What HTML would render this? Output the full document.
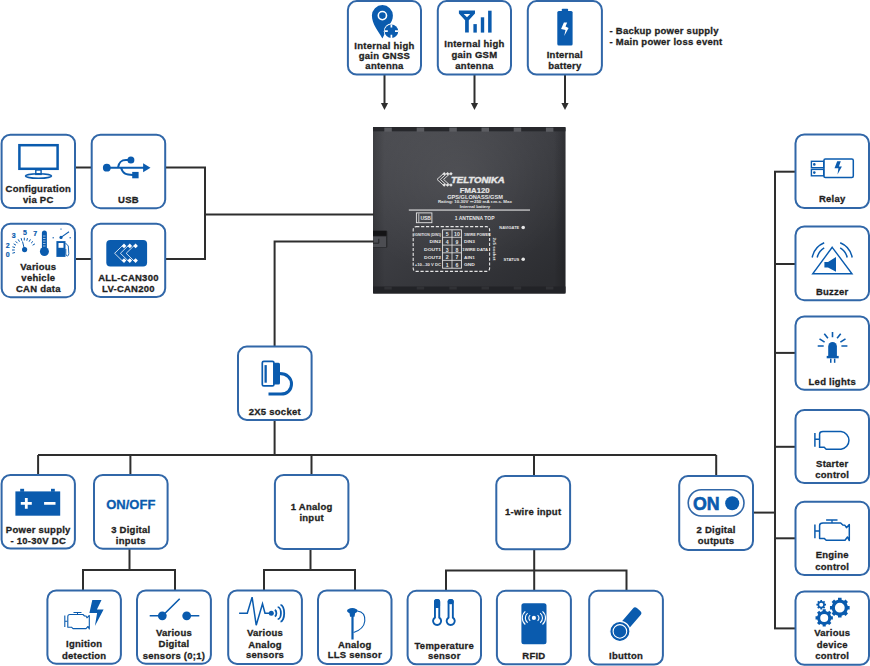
<!DOCTYPE html>
<html><head><meta charset="utf-8"><style>
html,body{margin:0;padding:0;background:#fff;width:870px;height:666px;overflow:hidden}
svg{display:block;font-family:"Liberation Sans",sans-serif}
</style></head><body>
<svg width="870" height="666" viewBox="0 0 870 666">
<defs><linearGradient id="dg" x1="0" y1="0" x2="0.8" y2="1"><stop offset="0" stop-color="#4a4b50"/><stop offset="0.5" stop-color="#3c3d42"/><stop offset="1" stop-color="#2c2d31"/></linearGradient><radialGradient id="rg" cx="0.45" cy="0.3" r="0.6"><stop offset="0" stop-color="#fff" stop-opacity="0.08"/><stop offset="1" stop-color="#fff" stop-opacity="0"/></radialGradient><linearGradient id="eg" x1="0" y1="0" x2="1" y2="0"><stop offset="0" stop-color="#000" stop-opacity="0.18"/><stop offset="0.06" stop-color="#000" stop-opacity="0"/><stop offset="0.94" stop-color="#000" stop-opacity="0"/><stop offset="1" stop-color="#000" stop-opacity="0.2"/></linearGradient></defs>
<rect x="373" y="127" width="192.5" height="166.5" rx="1.5" fill="url(#dg)"/>
<rect x="373" y="127" width="192.5" height="166.5" fill="url(#rg)"/>
<rect x="373" y="127" width="192.5" height="166.5" fill="url(#eg)"/>
<rect x="373" y="127" width="192.5" height="4.3" fill="#27282c"/>
<rect x="384.3" y="127.6" width="7.5" height="4.2" fill="#5b5c61"/>
<rect x="416.7" y="127.6" width="7.5" height="4.2" fill="#5b5c61"/>
<rect x="449.3" y="127.6" width="7.5" height="4.2" fill="#5b5c61"/>
<rect x="481.5" y="127.6" width="7.5" height="4.2" fill="#5b5c61"/>
<rect x="513.7" y="127.6" width="7.5" height="4.2" fill="#5b5c61"/>
<rect x="545.9" y="127.6" width="7.5" height="4.2" fill="#5b5c61"/>
<rect x="373" y="286.5" width="192.5" height="7" fill="#222327"/>
<rect x="384.3" y="286.5" width="7.5" height="3" fill="#303135"/>
<rect x="416.7" y="286.5" width="7.5" height="3" fill="#303135"/>
<rect x="449.3" y="286.5" width="7.5" height="3" fill="#303135"/>
<rect x="481.5" y="286.5" width="7.5" height="3" fill="#303135"/>
<rect x="513.7" y="286.5" width="7.5" height="3" fill="#303135"/>
<rect x="545.9" y="286.5" width="7.5" height="3" fill="#303135"/>
<rect x="373" y="230.8" width="14.4" height="16.9" rx="1" fill="#2a2b2e"/><rect x="373" y="230.8" width="13.5" height="5" fill="#141416"/><rect x="373" y="236.5" width="13" height="10.5" fill="#4c4d52"/>
<path d="M373,243.2 H378.8 V238.8" fill="none" stroke="#222326" stroke-width="1"/>
<text x="477.85" y="183.1" font-size="8.2" font-weight="bold" font-style="italic" fill="#e6e6e6" stroke="#e6e6e6" stroke-width="0.4" text-anchor="middle" textLength="53.7" lengthAdjust="spacingAndGlyphs">TELTONIKA</text>
<path d="M443.5,173.5 L437,179.4 L443.5,185.3" fill="none" stroke="#e6e6e6" stroke-width="0.9"/>
<path d="M446.8,173.5 L440.3,179.4 L446.8,185.3" fill="none" stroke="#e6e6e6" stroke-width="0.9"/>
<path d="M450.1,173.5 L443.6,179.4 L450.1,185.3" fill="none" stroke="#e6e6e6" stroke-width="0.9"/>
<rect x="443.0" y="172.60000000000002" width="2.4" height="2.4" fill="#e6e6e6" transform="rotate(45 444.2 173.8)"/>
<rect x="443.0" y="183.8" width="2.4" height="2.4" fill="#e6e6e6" transform="rotate(45 444.2 185)"/>
<rect x="446.40000000000003" y="172.60000000000002" width="2.4" height="2.4" fill="#e6e6e6" transform="rotate(45 447.6 173.8)"/>
<rect x="446.40000000000003" y="183.8" width="2.4" height="2.4" fill="#e6e6e6" transform="rotate(45 447.6 185)"/>
<rect x="449.8" y="172.60000000000002" width="2.4" height="2.4" fill="#e6e6e6" transform="rotate(45 451 173.8)"/>
<rect x="449.8" y="183.8" width="2.4" height="2.4" fill="#e6e6e6" transform="rotate(45 451 185)"/>
<text x="474.7" y="192.8" font-size="7.2" font-weight="bold"  fill="#e6e6e6" stroke="#e6e6e6" stroke-width="0.2" text-anchor="middle" textLength="29.8" lengthAdjust="spacingAndGlyphs">FMA120</text>
<text x="475" y="198.7" font-size="4.9" font-weight="bold"  fill="#e6e6e6" stroke="#e6e6e6" stroke-width="0" text-anchor="middle" textLength="55.7" lengthAdjust="spacingAndGlyphs">GPS/GLONASS/GSM</text>
<text x="474.9" y="203.4" font-size="4.3" font-weight="bold"  fill="#e6e6e6" stroke="#e6e6e6" stroke-width="0" text-anchor="middle" textLength="74" lengthAdjust="spacingAndGlyphs">Rating: 10-30V &#x2393; 250 mA r.m.s. Max</text>
<text x="475" y="207.6" font-size="4.3" font-weight="bold"  fill="#e6e6e6" stroke="#e6e6e6" stroke-width="0" text-anchor="middle" textLength="30.3" lengthAdjust="spacingAndGlyphs">Internal battery</text>
<rect x="408.8" y="209.5" width="121.2" height="1.1" fill="#e6e6e6"/>
<rect x="416.4" y="212.9" width="15.5" height="9.8" fill="none" stroke="#e6e6e6" stroke-width="0.9"/>
<path d="M418.8,213.5 V222.2" stroke="#e6e6e6" stroke-width="0.8"/>
<text x="425.7" y="220" font-size="4.6" font-weight="bold"  fill="#e6e6e6" stroke="#e6e6e6" stroke-width="0" text-anchor="middle" textLength="10.5" lengthAdjust="spacingAndGlyphs">USB</text>
<text x="474.6" y="219.6" font-size="5.2" font-weight="bold"  fill="#e6e6e6" stroke="#e6e6e6" stroke-width="0" text-anchor="middle" textLength="39.8" lengthAdjust="spacingAndGlyphs">1 ANTENNA TOP</text>
<rect x="413.2" y="226.6" width="76.4" height="44.8" rx="3" fill="none" stroke="#e6e6e6" stroke-width="1.1" stroke-dasharray="3.2 1.7"/>
<rect x="442.6" y="229.8" width="18.8" height="38.4" fill="none" stroke="#e6e6e6" stroke-width="0.9"/>
<path d="M452,229.8 V268.2 M442.6,237.3 H461.4 M442.6,245.1 H461.4 M442.6,252.8 H461.4 M442.6,260.4 H461.4" stroke="#e6e6e6" stroke-width="0.8"/>
<text x="427.65" y="235.5" font-size="4.4" font-weight="bold"  fill="#e6e6e6" stroke="#e6e6e6" stroke-width="0" text-anchor="middle" textLength="26.7" lengthAdjust="spacingAndGlyphs">IGNITION (DIN1)</text>
<text x="477.35" y="235.5" font-size="4.4" font-weight="bold"  fill="#e6e6e6" stroke="#e6e6e6" stroke-width="0" text-anchor="middle" textLength="26.7" lengthAdjust="spacingAndGlyphs">1WIRE POWER</text>
<text x="447.3" y="235.9" font-size="5.2" font-weight="bold" fill="#e6e6e6" text-anchor="middle">5</text>
<text x="456.9" y="235.9" font-size="5.2" font-weight="bold" fill="#e6e6e6" text-anchor="middle">10</text>
<text x="435.3" y="243.2" font-size="4.4" font-weight="bold"  fill="#e6e6e6" stroke="#e6e6e6" stroke-width="0" text-anchor="middle" textLength="11.4" lengthAdjust="spacingAndGlyphs">DIN2</text>
<text x="469.45" y="243.2" font-size="4.4" font-weight="bold"  fill="#e6e6e6" stroke="#e6e6e6" stroke-width="0" text-anchor="middle" textLength="10.9" lengthAdjust="spacingAndGlyphs">DIN3</text>
<text x="447.3" y="243.6" font-size="5.2" font-weight="bold" fill="#e6e6e6" text-anchor="middle">4</text>
<text x="456.9" y="243.6" font-size="5.2" font-weight="bold" fill="#e6e6e6" text-anchor="middle">9</text>
<text x="432.55" y="251.1" font-size="4.4" font-weight="bold"  fill="#e6e6e6" stroke="#e6e6e6" stroke-width="0" text-anchor="middle" textLength="16.9" lengthAdjust="spacingAndGlyphs">DOUT1</text>
<text x="475.15000000000003" y="251.1" font-size="4.4" font-weight="bold"  fill="#e6e6e6" stroke="#e6e6e6" stroke-width="0" text-anchor="middle" textLength="25.7" lengthAdjust="spacingAndGlyphs">1WIRE DATA</text>
<text x="447.3" y="251.5" font-size="5.2" font-weight="bold" fill="#e6e6e6" text-anchor="middle">3</text>
<text x="456.9" y="251.5" font-size="5.2" font-weight="bold" fill="#e6e6e6" text-anchor="middle">8</text>
<text x="432.55" y="258.8" font-size="4.4" font-weight="bold"  fill="#e6e6e6" stroke="#e6e6e6" stroke-width="0" text-anchor="middle" textLength="16.9" lengthAdjust="spacingAndGlyphs">DOUT2</text>
<text x="469.45" y="258.8" font-size="4.4" font-weight="bold"  fill="#e6e6e6" stroke="#e6e6e6" stroke-width="0" text-anchor="middle" textLength="10.9" lengthAdjust="spacingAndGlyphs">AIN1</text>
<text x="447.3" y="259.2" font-size="5.2" font-weight="bold" fill="#e6e6e6" text-anchor="middle">2</text>
<text x="456.9" y="259.2" font-size="5.2" font-weight="bold" fill="#e6e6e6" text-anchor="middle">7</text>
<text x="427.9" y="266.4" font-size="4.4" font-weight="bold"  fill="#e6e6e6" stroke="#e6e6e6" stroke-width="0" text-anchor="middle" textLength="26.2" lengthAdjust="spacingAndGlyphs">+10...30 V DC</text>
<text x="469.45" y="266.4" font-size="4.4" font-weight="bold"  fill="#e6e6e6" stroke="#e6e6e6" stroke-width="0" text-anchor="middle" textLength="10.9" lengthAdjust="spacingAndGlyphs">GND</text>
<text x="447.3" y="266.79999999999995" font-size="5.2" font-weight="bold" fill="#e6e6e6" text-anchor="middle">1</text>
<text x="456.9" y="266.79999999999995" font-size="5.2" font-weight="bold" fill="#e6e6e6" text-anchor="middle">6</text>
<g transform="translate(492.6 249) rotate(90)"><text x="0" y="0" font-size="4" font-weight="bold" fill="#e6e6e6" text-anchor="middle" textLength="23" lengthAdjust="spacingAndGlyphs">2x5 socket</text></g>
<text x="519.2" y="229" font-size="4.2" font-weight="bold" fill="#e6e6e6" text-anchor="end" textLength="19.9" lengthAdjust="spacingAndGlyphs">NAVIGATE</text><circle cx="523.2" cy="227.5" r="1.8" fill="#e6e6e6"/>
<text x="519.2" y="260.7" font-size="4.2" font-weight="bold" fill="#e6e6e6" text-anchor="end" textLength="15.7" lengthAdjust="spacingAndGlyphs">STATUS</text><circle cx="523.2" cy="259.2" r="1.8" fill="#e6e6e6"/>
<polyline points="384.5,75 384.5,104" fill="none" stroke="#2e2e2e" stroke-width="2" stroke-linejoin="miter"/>
<path d="M380.9,103 L388.1,103 L384.5,110 Z" fill="#2e2e2e"/>
<polyline points="474.5,75 474.5,104" fill="none" stroke="#2e2e2e" stroke-width="2" stroke-linejoin="miter"/>
<path d="M470.9,103 L478.1,103 L474.5,110 Z" fill="#2e2e2e"/>
<polyline points="565,75 565,104" fill="none" stroke="#2e2e2e" stroke-width="2" stroke-linejoin="miter"/>
<path d="M561.4,103 L568.6,103 L565,110 Z" fill="#2e2e2e"/>
<polyline points="75,167.5 92,167.5" fill="none" stroke="#2e2e2e" stroke-width="2" stroke-linejoin="miter"/>
<polyline points="75,259 92,259" fill="none" stroke="#2e2e2e" stroke-width="2" stroke-linejoin="miter"/>
<polyline points="165,167.5 205,167.5 205,259 165,259" fill="none" stroke="#2e2e2e" stroke-width="2" stroke-linejoin="miter"/>
<polyline points="205,214.6 374,214.6" fill="none" stroke="#2e2e2e" stroke-width="2" stroke-linejoin="miter"/>
<polyline points="374,241.6 274.6,241.6 274.6,347" fill="none" stroke="#2e2e2e" stroke-width="2" stroke-linejoin="miter"/>
<polyline points="274.6,420 274.6,455" fill="none" stroke="#2e2e2e" stroke-width="2" stroke-linejoin="miter"/>
<polyline points="38,455 716.2,455" fill="none" stroke="#2e2e2e" stroke-width="2" stroke-linejoin="miter"/>
<polyline points="38.1,455 38.1,476" fill="none" stroke="#2e2e2e" stroke-width="2" stroke-linejoin="miter"/>
<polyline points="130.4,455 130.4,476" fill="none" stroke="#2e2e2e" stroke-width="2" stroke-linejoin="miter"/>
<polyline points="311.5,455 311.5,476" fill="none" stroke="#2e2e2e" stroke-width="2" stroke-linejoin="miter"/>
<polyline points="534,455 534,476" fill="none" stroke="#2e2e2e" stroke-width="2" stroke-linejoin="miter"/>
<polyline points="716.2,455 716.2,476" fill="none" stroke="#2e2e2e" stroke-width="2" stroke-linejoin="miter"/>
<polyline points="129.5,548 129.5,570" fill="none" stroke="#2e2e2e" stroke-width="2" stroke-linejoin="miter"/>
<polyline points="83,591 83,570 175,570 175,591" fill="none" stroke="#2e2e2e" stroke-width="2" stroke-linejoin="miter"/>
<polyline points="310.5,548 310.5,570" fill="none" stroke="#2e2e2e" stroke-width="2" stroke-linejoin="miter"/>
<polyline points="264,591 264,570 355,570 355,591" fill="none" stroke="#2e2e2e" stroke-width="2" stroke-linejoin="miter"/>
<polyline points="534.2,549 534.2,592" fill="none" stroke="#2e2e2e" stroke-width="2" stroke-linejoin="miter"/>
<polyline points="446,592 446,570.5 626.5,570.5 626.5,592" fill="none" stroke="#2e2e2e" stroke-width="2" stroke-linejoin="miter"/>
<polyline points="753,512.6 775,512.6" fill="none" stroke="#2e2e2e" stroke-width="2" stroke-linejoin="miter"/>
<polyline points="775,171.7 775,628.4" fill="none" stroke="#2e2e2e" stroke-width="2" stroke-linejoin="miter"/>
<polyline points="774,171.7 796,171.7" fill="none" stroke="#2e2e2e" stroke-width="2" stroke-linejoin="miter"/>
<polyline points="774,264 796,264" fill="none" stroke="#2e2e2e" stroke-width="2" stroke-linejoin="miter"/>
<polyline points="774,352.9 796,352.9" fill="none" stroke="#2e2e2e" stroke-width="2" stroke-linejoin="miter"/>
<polyline points="774,446.8 796,446.8" fill="none" stroke="#2e2e2e" stroke-width="2" stroke-linejoin="miter"/>
<polyline points="774,538.3 796,538.3" fill="none" stroke="#2e2e2e" stroke-width="2" stroke-linejoin="miter"/>
<polyline points="774,628.4 796,628.4" fill="none" stroke="#2e2e2e" stroke-width="2" stroke-linejoin="miter"/>
<rect x="347.90" y="1.10" width="73.10" height="73.40" rx="8.8" fill="#fff" stroke="#3167a8" stroke-width="2"/>
<rect x="437.80" y="1.10" width="73.20" height="73.40" rx="8.8" fill="#fff" stroke="#3167a8" stroke-width="2"/>
<rect x="527.80" y="1.10" width="74.10" height="73.40" rx="8.8" fill="#fff" stroke="#3167a8" stroke-width="2"/>
<rect x="1.60" y="134.70" width="73.40" height="73.30" rx="8.8" fill="#fff" stroke="#3167a8" stroke-width="2"/>
<rect x="91.70" y="134.70" width="73.50" height="73.50" rx="8.8" fill="#fff" stroke="#3167a8" stroke-width="2"/>
<rect x="1.70" y="223.70" width="73.30" height="73.50" rx="8.8" fill="#fff" stroke="#3167a8" stroke-width="2"/>
<rect x="91.70" y="223.70" width="73.50" height="73.40" rx="8.8" fill="#fff" stroke="#3167a8" stroke-width="2"/>
<rect x="795.50" y="134.50" width="73.50" height="73.50" rx="8.8" fill="#fff" stroke="#3167a8" stroke-width="2"/>
<rect x="795.50" y="226.40" width="73.50" height="73.80" rx="8.8" fill="#fff" stroke="#3167a8" stroke-width="2"/>
<rect x="795.50" y="316.50" width="73.50" height="73.20" rx="8.8" fill="#fff" stroke="#3167a8" stroke-width="2"/>
<rect x="795.50" y="409.90" width="73.50" height="73.20" rx="8.8" fill="#fff" stroke="#3167a8" stroke-width="2"/>
<rect x="795.50" y="501.80" width="73.50" height="73.20" rx="8.8" fill="#fff" stroke="#3167a8" stroke-width="2"/>
<rect x="795.50" y="591.50" width="73.50" height="73.30" rx="8.8" fill="#fff" stroke="#3167a8" stroke-width="2"/>
<rect x="238.00" y="346.60" width="73.60" height="73.30" rx="8.8" fill="#fff" stroke="#3167a8" stroke-width="2"/>
<rect x="1.60" y="474.90" width="73.30" height="73.70" rx="8.8" fill="#fff" stroke="#3167a8" stroke-width="2"/>
<rect x="94.00" y="474.90" width="73.60" height="73.80" rx="8.8" fill="#fff" stroke="#3167a8" stroke-width="2"/>
<rect x="274.90" y="475.00" width="73.50" height="74.00" rx="8.8" fill="#fff" stroke="#3167a8" stroke-width="2"/>
<rect x="496.30" y="476.00" width="73.80" height="73.30" rx="8.8" fill="#fff" stroke="#3167a8" stroke-width="2"/>
<rect x="679.20" y="476.10" width="73.80" height="73.80" rx="8.8" fill="#fff" stroke="#3167a8" stroke-width="2"/>
<rect x="47.40" y="590.50" width="73.50" height="73.20" rx="8.8" fill="#fff" stroke="#3167a8" stroke-width="2"/>
<rect x="137.00" y="590.50" width="73.90" height="73.20" rx="8.8" fill="#fff" stroke="#3167a8" stroke-width="2"/>
<rect x="228.20" y="590.40" width="73.70" height="73.50" rx="8.8" fill="#fff" stroke="#3167a8" stroke-width="2"/>
<rect x="318.00" y="590.50" width="73.50" height="73.40" rx="8.8" fill="#fff" stroke="#3167a8" stroke-width="2"/>
<rect x="407.60" y="590.80" width="73.40" height="73.50" rx="8.8" fill="#fff" stroke="#3167a8" stroke-width="2"/>
<rect x="496.90" y="590.80" width="74.00" height="73.50" rx="8.8" fill="#fff" stroke="#3167a8" stroke-width="2"/>
<rect x="589.20" y="590.80" width="73.70" height="73.70" rx="8.8" fill="#fff" stroke="#3167a8" stroke-width="2"/>
<text x="384.45" y="48.7" font-size="9.5" letter-spacing="0.25" fill="#1f1f1f" stroke="#1f1f1f" stroke-width="0.3" font-weight="bold" text-anchor="middle" >Internal high</text>
<text x="384.45" y="58.9" font-size="9.5" letter-spacing="0.25" fill="#1f1f1f" stroke="#1f1f1f" stroke-width="0.3" font-weight="bold" text-anchor="middle" >gain GNSS</text>
<text x="384.45" y="69.4" font-size="9.5" letter-spacing="0.25" fill="#1f1f1f" stroke="#1f1f1f" stroke-width="0.3" font-weight="bold" text-anchor="middle" >antenna</text>
<text x="474.4" y="46.6" font-size="9.5" letter-spacing="0.25" fill="#1f1f1f" stroke="#1f1f1f" stroke-width="0.3" font-weight="bold" text-anchor="middle" >Internal high</text>
<text x="474.4" y="57.7" font-size="9.5" letter-spacing="0.25" fill="#1f1f1f" stroke="#1f1f1f" stroke-width="0.3" font-weight="bold" text-anchor="middle" >gain GSM</text>
<text x="474.4" y="68.9" font-size="9.5" letter-spacing="0.25" fill="#1f1f1f" stroke="#1f1f1f" stroke-width="0.3" font-weight="bold" text-anchor="middle" >antenna</text>
<text x="564.8499999999999" y="57.9" font-size="9.5" letter-spacing="0.25" fill="#1f1f1f" stroke="#1f1f1f" stroke-width="0.3" font-weight="bold" text-anchor="middle" >Internal</text>
<text x="564.8499999999999" y="68.7" font-size="9.5" letter-spacing="0.25" fill="#1f1f1f" stroke="#1f1f1f" stroke-width="0.3" font-weight="bold" text-anchor="middle" >battery</text>
<text x="38.3" y="191.6" font-size="9.5" letter-spacing="0.25" fill="#1f1f1f" stroke="#1f1f1f" stroke-width="0.3" font-weight="bold" text-anchor="middle" >Configuration</text>
<text x="38.3" y="203.2" font-size="9.5" letter-spacing="0.25" fill="#1f1f1f" stroke="#1f1f1f" stroke-width="0.3" font-weight="bold" text-anchor="middle" >via PC</text>
<text x="128.45" y="203" font-size="9.5" letter-spacing="0.25" fill="#1f1f1f" stroke="#1f1f1f" stroke-width="0.3" font-weight="bold" text-anchor="middle" >USB</text>
<text x="38.35" y="269.5" font-size="9.5" letter-spacing="0.25" fill="#1f1f1f" stroke="#1f1f1f" stroke-width="0.3" font-weight="bold" text-anchor="middle" >Various</text>
<text x="38.35" y="281" font-size="9.5" letter-spacing="0.25" fill="#1f1f1f" stroke="#1f1f1f" stroke-width="0.3" font-weight="bold" text-anchor="middle" >vehicle</text>
<text x="38.35" y="292" font-size="9.5" letter-spacing="0.25" fill="#1f1f1f" stroke="#1f1f1f" stroke-width="0.3" font-weight="bold" text-anchor="middle" >CAN data</text>
<text x="128.45" y="280.8" font-size="9.5" letter-spacing="0.25" fill="#1f1f1f" stroke="#1f1f1f" stroke-width="0.3" font-weight="bold" text-anchor="middle" >ALL-CAN300</text>
<text x="128.45" y="292" font-size="9.5" letter-spacing="0.25" fill="#1f1f1f" stroke="#1f1f1f" stroke-width="0.3" font-weight="bold" text-anchor="middle" >LV-CAN200</text>
<text x="274.8" y="414.7" font-size="9.5" letter-spacing="0.25" fill="#1f1f1f" stroke="#1f1f1f" stroke-width="0.3" font-weight="bold" text-anchor="middle" >2X5 socket</text>
<text x="38.25" y="533" font-size="9.5" letter-spacing="0.25" fill="#1f1f1f" stroke="#1f1f1f" stroke-width="0.3" font-weight="bold" text-anchor="middle" >Power supply</text>
<text x="38.25" y="544.2" font-size="9.5" letter-spacing="0.25" fill="#1f1f1f" stroke="#1f1f1f" stroke-width="0.3" font-weight="bold" text-anchor="middle" >- 10-30V DC</text>
<text x="130.8" y="533" font-size="9.5" letter-spacing="0.25" fill="#1f1f1f" stroke="#1f1f1f" stroke-width="0.3" font-weight="bold" text-anchor="middle" >3 Digital</text>
<text x="130.8" y="544" font-size="9.5" letter-spacing="0.25" fill="#1f1f1f" stroke="#1f1f1f" stroke-width="0.3" font-weight="bold" text-anchor="middle" >inputs</text>
<text x="311.65" y="510.3" font-size="9.5" letter-spacing="0.25" fill="#1f1f1f" stroke="#1f1f1f" stroke-width="0.3" font-weight="bold" text-anchor="middle" >1 Analog</text>
<text x="311.65" y="520.5" font-size="9.5" letter-spacing="0.25" fill="#1f1f1f" stroke="#1f1f1f" stroke-width="0.3" font-weight="bold" text-anchor="middle" >input</text>
<text x="533.2" y="515.3" font-size="9.5" letter-spacing="0.25" fill="#1f1f1f" stroke="#1f1f1f" stroke-width="0.3" font-weight="bold" text-anchor="middle" >1-wire input</text>
<text x="716.1" y="533" font-size="9.5" letter-spacing="0.25" fill="#1f1f1f" stroke="#1f1f1f" stroke-width="0.3" font-weight="bold" text-anchor="middle" >2 Digital</text>
<text x="716.1" y="544.2" font-size="9.5" letter-spacing="0.25" fill="#1f1f1f" stroke="#1f1f1f" stroke-width="0.3" font-weight="bold" text-anchor="middle" >outputs</text>
<text x="832.25" y="202.3" font-size="9.5" letter-spacing="0.25" fill="#1f1f1f" stroke="#1f1f1f" stroke-width="0.3" font-weight="bold" text-anchor="middle" >Relay</text>
<text x="832.25" y="294.5" font-size="9.5" letter-spacing="0.25" fill="#1f1f1f" stroke="#1f1f1f" stroke-width="0.3" font-weight="bold" text-anchor="middle" >Buzzer</text>
<text x="832.25" y="384.8" font-size="9.5" letter-spacing="0.25" fill="#1f1f1f" stroke="#1f1f1f" stroke-width="0.3" font-weight="bold" text-anchor="middle" >Led lights</text>
<text x="832.25" y="467" font-size="9.5" letter-spacing="0.25" fill="#1f1f1f" stroke="#1f1f1f" stroke-width="0.3" font-weight="bold" text-anchor="middle" >Starter</text>
<text x="832.25" y="478.3" font-size="9.5" letter-spacing="0.25" fill="#1f1f1f" stroke="#1f1f1f" stroke-width="0.3" font-weight="bold" text-anchor="middle" >control</text>
<text x="832.25" y="558.3" font-size="9.5" letter-spacing="0.25" fill="#1f1f1f" stroke="#1f1f1f" stroke-width="0.3" font-weight="bold" text-anchor="middle" >Engine</text>
<text x="832.25" y="569.6" font-size="9.5" letter-spacing="0.25" fill="#1f1f1f" stroke="#1f1f1f" stroke-width="0.3" font-weight="bold" text-anchor="middle" >control</text>
<text x="832.25" y="636.3" font-size="9.5" letter-spacing="0.25" fill="#1f1f1f" stroke="#1f1f1f" stroke-width="0.3" font-weight="bold" text-anchor="middle" >Various</text>
<text x="832.25" y="647.8" font-size="9.5" letter-spacing="0.25" fill="#1f1f1f" stroke="#1f1f1f" stroke-width="0.3" font-weight="bold" text-anchor="middle" >device</text>
<text x="832.25" y="658.6" font-size="9.5" letter-spacing="0.25" fill="#1f1f1f" stroke="#1f1f1f" stroke-width="0.3" font-weight="bold" text-anchor="middle" >control</text>
<text x="84.15" y="647.2" font-size="9.5" letter-spacing="0.25" fill="#1f1f1f" stroke="#1f1f1f" stroke-width="0.3" font-weight="bold" text-anchor="middle" >Ignition</text>
<text x="84.15" y="658.6" font-size="9.5" letter-spacing="0.25" fill="#1f1f1f" stroke="#1f1f1f" stroke-width="0.3" font-weight="bold" text-anchor="middle" >detection</text>
<text x="173.95" y="635.9" font-size="9.5" letter-spacing="0.25" fill="#1f1f1f" stroke="#1f1f1f" stroke-width="0.3" font-weight="bold" text-anchor="middle" >Various</text>
<text x="173.95" y="647" font-size="9.5" letter-spacing="0.25" fill="#1f1f1f" stroke="#1f1f1f" stroke-width="0.3" font-weight="bold" text-anchor="middle" >Digital</text>
<text x="173.95" y="658.6" font-size="9.5" letter-spacing="0.25" fill="#1f1f1f" stroke="#1f1f1f" stroke-width="0.3" font-weight="bold" text-anchor="middle" >sensors (0;1)</text>
<text x="265.04999999999995" y="636" font-size="9.5" letter-spacing="0.25" fill="#1f1f1f" stroke="#1f1f1f" stroke-width="0.3" font-weight="bold" text-anchor="middle" >Various</text>
<text x="265.04999999999995" y="647.6" font-size="9.5" letter-spacing="0.25" fill="#1f1f1f" stroke="#1f1f1f" stroke-width="0.3" font-weight="bold" text-anchor="middle" >Analog</text>
<text x="265.04999999999995" y="658.3" font-size="9.5" letter-spacing="0.25" fill="#1f1f1f" stroke="#1f1f1f" stroke-width="0.3" font-weight="bold" text-anchor="middle" >sensors</text>
<text x="354.75" y="647.6" font-size="9.5" letter-spacing="0.25" fill="#1f1f1f" stroke="#1f1f1f" stroke-width="0.3" font-weight="bold" text-anchor="middle" >Analog</text>
<text x="354.75" y="658.3" font-size="9.5" letter-spacing="0.25" fill="#1f1f1f" stroke="#1f1f1f" stroke-width="0.3" font-weight="bold" text-anchor="middle" >LLS sensor</text>
<text x="444.3" y="648.5" font-size="9.5" letter-spacing="0.25" fill="#1f1f1f" stroke="#1f1f1f" stroke-width="0.3" font-weight="bold" text-anchor="middle" >Temperature</text>
<text x="444.3" y="658.9" font-size="9.5" letter-spacing="0.25" fill="#1f1f1f" stroke="#1f1f1f" stroke-width="0.3" font-weight="bold" text-anchor="middle" >sensor</text>
<text x="533.9" y="659.4" font-size="9.5" letter-spacing="0.25" fill="#1f1f1f" stroke="#1f1f1f" stroke-width="0.3" font-weight="bold" text-anchor="middle" >RFID</text>
<text x="626.05" y="659.4" font-size="9.5" letter-spacing="0.25" fill="#1f1f1f" stroke="#1f1f1f" stroke-width="0.3" font-weight="bold" text-anchor="middle" >Ibutton</text>
<text x="609.5" y="34.3" font-size="9.5" letter-spacing="0.25" fill="#1f1f1f" stroke="#1f1f1f" stroke-width="0.3" font-weight="bold" text-anchor="start" >- Backup power supply</text>
<text x="609.5" y="45.3" font-size="9.5" letter-spacing="0.25" fill="#1f1f1f" stroke="#1f1f1f" stroke-width="0.3" font-weight="bold" text-anchor="start" >- Main power loss event</text>
<text x="130.8" y="509.3" font-size="13" letter-spacing="0" fill="#0a5bae" stroke="#0a5bae" stroke-width="0.3" font-weight="bold" text-anchor="middle" >ON/OFF</text>
<path d="M382.4,38.4 C378,31 371.9,24 371.9,15.6 A10.5,10.5 0 0 1 392.9,15.6 C392.9,20 391,23 389,25 Z" fill="#0a5bae"/>
<circle cx="382.4" cy="15.6" r="4.1" fill="none" stroke="#fff" stroke-width="1.6"/>
<circle cx="391.4" cy="31.2" r="7.6" fill="#fff"/>
<circle cx="391.4" cy="31.2" r="6.8" fill="#0a5bae"/>
<path d="M384.6,31.2 h3.2 M395,31.2 h3.2 M391.4,24.4 v3.2 M391.4,34.8 v3.2" stroke="#fff" stroke-width="1.7"/>
<path d="M458.9,10.5 H475 V13.5 L468.8,20.2 V32.6 H465.1 V20.2 L458.9,13.5 Z M463.7,14 L470.2,14 L467,17.2 Z" fill="#0a5bae" fill-rule="evenodd"/>
<rect x="473.4" y="24.1" width="3.4" height="8.5" fill="#0a5bae"/>
<rect x="480.8" y="17.3" width="3.4" height="15.3" fill="#0a5bae"/>
<rect x="488.1" y="10.7" width="3.5" height="21.9" fill="#0a5bae"/>
<rect x="557.3" y="11" width="15.3" height="34.6" rx="1.5" fill="#0a5bae"/>
<rect x="561.8" y="8.7" width="6.3" height="3" rx="0.8" fill="#0a5bae"/>
<path d="M563.9,22.6 L567.2,22.6 L565.5,26.6 L568.6,28 L564.2,36.1 L565.5,30 L561.1,29 Z" fill="#fff"/>
<rect x="19.4" y="145.2" width="38.2" height="23.6" fill="none" stroke="#0a5bae" stroke-width="2.5"/>
<rect x="35.8" y="170" width="5.3" height="4.4" fill="none" stroke="#0a5bae" stroke-width="1.4"/>
<ellipse cx="38.5" cy="176" rx="13" ry="2.3" fill="none" stroke="#0a5bae" stroke-width="1.6"/>
<circle cx="106.8" cy="167.7" r="3.9" fill="#0a5bae"/>
<path d="M106.8,167.7 H144" stroke="#0a5bae" stroke-width="2"/>
<path d="M143.1,163.2 L150.5,167.7 L143.1,172.2 Z" fill="#0a5bae"/>
<path d="M118,167.7 C119,161.5 121.5,160 126,160 L131,160" fill="none" stroke="#0a5bae" stroke-width="2"/>
<circle cx="130.9" cy="160" r="3.5" fill="#0a5bae"/>
<path d="M121,167.7 C123,174 126,175 133,175" fill="none" stroke="#0a5bae" stroke-width="2"/>
<rect x="132.2" y="171.9" width="6.4" height="6.4" fill="#0a5bae"/>
<text x="7.6" y="256.5" font-size="7" letter-spacing="0" fill="#0a5bae" stroke="#0a5bae" stroke-width="0.2" font-weight="bold" text-anchor="middle" >0</text>
<text x="7.6" y="247.5" font-size="7" letter-spacing="0" fill="#0a5bae" stroke="#0a5bae" stroke-width="0.2" font-weight="bold" text-anchor="middle" >2</text>
<text x="13.8" y="238.0" font-size="7" letter-spacing="0" fill="#0a5bae" stroke="#0a5bae" stroke-width="0.2" font-weight="bold" text-anchor="middle" >3</text>
<text x="24.9" y="234.5" font-size="7" letter-spacing="0" fill="#0a5bae" stroke="#0a5bae" stroke-width="0.2" font-weight="bold" text-anchor="middle" >5</text>
<text x="35.3" y="236.3" font-size="7" letter-spacing="0" fill="#0a5bae" stroke="#0a5bae" stroke-width="0.2" font-weight="bold" text-anchor="middle" >7</text>
<path d="M15.03,252.48 L12.42,253.18" stroke="#0a5bae" stroke-width="1"/>
<path d="M14.70,250.00 L12.00,250.00" stroke="#0a5bae" stroke-width="1"/>
<path d="M15.03,247.52 L12.42,246.82" stroke="#0a5bae" stroke-width="1"/>
<path d="M15.99,245.20 L13.65,243.85" stroke="#0a5bae" stroke-width="1"/>
<path d="M17.51,243.21 L15.60,241.30" stroke="#0a5bae" stroke-width="1"/>
<path d="M19.50,241.69 L18.15,239.35" stroke="#0a5bae" stroke-width="1"/>
<path d="M21.82,240.73 L21.12,238.12" stroke="#0a5bae" stroke-width="1"/>
<path d="M24.30,240.40 L24.30,237.70" stroke="#0a5bae" stroke-width="1"/>
<path d="M26.78,240.73 L27.48,238.12" stroke="#0a5bae" stroke-width="1"/>
<path d="M29.10,241.69 L30.45,239.35" stroke="#0a5bae" stroke-width="1"/>
<path d="M31.09,243.21 L33.00,241.30" stroke="#0a5bae" stroke-width="1"/>
<path d="M32.61,245.20 L34.95,243.85" stroke="#0a5bae" stroke-width="1"/>
<path d="M22.5,241.5 L24.5,249.5" stroke="#0a5bae" stroke-width="1"/><circle cx="24.6" cy="249.6" r="2.6" fill="#0a5bae"/>
<rect x="41.9" y="230.4" width="5" height="19" rx="2.5" fill="#0a5bae"/><circle cx="44.4" cy="251.5" r="4.5" fill="#0a5bae"/>
<path d="M43,236 h2.5 M43,238.5 h2.5 M43,241 h2.5 M43,243.5 h2.5 M43,246 h2.5" stroke="#fff" stroke-width="0.6"/>
<rect x="56.4" y="241.1" width="9.1" height="15.8" fill="#0a5bae"/><rect x="58.5" y="243" width="5" height="4.8" fill="#fff"/>
<path d="M65.5,243 L68.3,246 L68.8,253.5 Q68.8,256 67.3,256 Q65.8,256 65.8,253.5 L65.8,249" fill="none" stroke="#0a5bae" stroke-width="0.9"/>
<path d="M61,237.4 L69,231.8" stroke="#0a5bae" stroke-width="1.1"/><circle cx="61" cy="237.4" r="1.6" fill="#0a5bae"/>
<path d="M52.5,237.8 h1.5 M69.5,237.8 h1.5 M61,228.5 v1.2" stroke="#0a5bae" stroke-width="1"/>
<rect x="106.3" y="239.9" width="40.8" height="26.7" rx="4" fill="#0a5bae"/>
<path d="M122.6,245.5 L114.6,253.3 L122.6,261.1" fill="none" stroke="#fff" stroke-width="0.8"/>
<path d="M128.4,245.5 L120.4,253.3 L128.4,261.1" fill="none" stroke="#fff" stroke-width="0.8"/>
<path d="M134.2,245.5 L126.2,253.3 L134.2,261.1" fill="none" stroke="#fff" stroke-width="0.8"/>
<path d="M124,243.6 L126.3,245.9 L124,248.20000000000002 L121.7,245.9 Z" fill="#fff"/>
<path d="M124,258.3 L126.3,260.6 L124,262.90000000000003 L121.7,260.6 Z" fill="#fff"/>
<path d="M129.8,243.6 L132.10000000000002,245.9 L129.8,248.20000000000002 L127.50000000000001,245.9 Z" fill="#fff"/>
<path d="M129.8,258.3 L132.10000000000002,260.6 L129.8,262.90000000000003 L127.50000000000001,260.6 Z" fill="#fff"/>
<path d="M135.6,243.6 L137.9,245.9 L135.6,248.20000000000002 L133.29999999999998,245.9 Z" fill="#fff"/>
<path d="M135.6,258.3 L137.9,260.6 L135.6,262.90000000000003 L133.29999999999998,260.6 Z" fill="#fff"/>
<rect x="823.9" y="158.9" width="29.4" height="18.6" rx="1.5" fill="none" stroke="#0a5bae" stroke-width="1.5"/>
<rect x="811.4" y="161.3" width="12.3" height="6.4" fill="none" stroke="#0a5bae" stroke-width="1.4"/>
<rect x="811.4" y="169.4" width="12.3" height="6.4" fill="none" stroke="#0a5bae" stroke-width="1.4"/>
<circle cx="814.3" cy="164.4" r="1.3" fill="#0a5bae"/><circle cx="814.3" cy="172.6" r="1.3" fill="#0a5bae"/>
<path d="M837.2,161.3 L840.8,161.3 L838.9,166.6 L841.9,166.6 L837.5,174.6 L838.4,168.2 L834.5,168.2 Z" fill="#0a5bae"/>
<path d="M832.2,247.3 L852,273.8 L812.7,273.8 Z" fill="none" stroke="#0a5bae" stroke-width="1.4" stroke-linejoin="miter"/>
<path d="M824.4,262 H828 L836,256.9 V271.7 L828,267.5 H824.4 Z" fill="#0a5bae"/>
<path d="M812.2,257.5 A20,20 0 0 1 824.2,242.8 M817.2,257.5 A15,15 0 0 1 824.2,247.9 M852.2,257.5 A20,20 0 0 0 840.2,242.8 M847.2,257.5 A15,15 0 0 0 840.2,247.9" fill="none" stroke="#0a5bae" stroke-width="1.5"/>
<path d="M828.2,356 V346.4 A4.35,4.35 0 0 1 836.9,346.4 V356 Z" fill="#0a5bae"/>
<rect x="826.7" y="355.9" width="12" height="2.4" fill="#0a5bae"/>
<rect x="830" y="358.6" width="1.5" height="4.2" fill="#0a5bae"/><rect x="833.9" y="358.6" width="1.5" height="4.2" fill="#0a5bae"/>
<path d="M817.7,346 h6 M841.4,346 h6 M832.5,331.9 v5.4 M824.3,333.7 L827.9,338.2 M840.7,333.7 L837.1,338.2 M819.5,338.8 L824.6,342.1 M845.5,338.8 L840.4,342.1" stroke="#0a5bae" stroke-width="1.6"/>
<path d="M814.9,432.9 V446.7 M815,439.3 H819" stroke="#0a5bae" stroke-width="1.5"/>
<path d="M819.6,434 Q819.6,431.5 823,431.5 L841,431.5 A8.9,8.9 0 0 1 841,449.2 L826.2,449.2 L824.2,447.3 L819.6,447.3 Z" fill="none" stroke="#0a5bae" stroke-width="1.5"/>
<path d="M814.9,524.5 V538.3 M815,530.9 H819" stroke="#0a5bae" stroke-width="1.5"/>
<path d="M819.6,525.5 Q819.6,523 823,523 L840.7,523 L842.8,525 L844.9,525.3 L846.5,527.7 L849.3,524.5 L849.3,540.6 L847.5,537 L845,540.3 L826.2,540.3 L824.2,538.4 L819.6,538.4 Z" fill="none" stroke="#0a5bae" stroke-width="1.5" stroke-linejoin="round"/>
<path d="M826.1,520 H837.5 M832,520 V523" stroke="#0a5bae" stroke-width="1.3"/>
<path d="M847.80,605.88 L849.64,605.94 L849.64,609.46 L847.80,609.52 L846.74,612.07 L848.00,613.42 L845.52,615.90 L844.17,614.64 L841.62,615.70 L841.56,617.54 L838.04,617.54 L837.98,615.70 L835.43,614.64 L834.08,615.90 L831.60,613.42 L832.86,612.07 L831.80,609.52 L829.96,609.46 L829.96,605.94 L831.80,605.88 L832.86,603.33 L831.60,601.98 L834.08,599.50 L835.43,600.76 L837.98,599.70 L838.04,597.86 L841.56,597.86 L841.62,599.70 L844.17,600.76 L845.52,599.50 L848.00,601.98 L846.74,603.33 Z M844.70,607.70 A4.9,4.9 0 1,0 834.90,607.70 A4.9,4.9 0 1,0 844.70,607.70 Z" fill="#0a5bae" fill-rule="evenodd"/>
<path d="M831.12,616.32 L832.86,616.35 L832.86,619.45 L831.12,619.48 L830.21,621.68 L831.42,622.93 L829.23,625.12 L827.98,623.91 L825.78,624.82 L825.75,626.56 L822.65,626.56 L822.62,624.82 L820.42,623.91 L819.17,625.12 L816.98,622.93 L818.19,621.68 L817.28,619.48 L815.54,619.45 L815.54,616.35 L817.28,616.32 L818.19,614.12 L816.98,612.87 L819.17,610.68 L820.42,611.89 L822.62,610.98 L822.65,609.24 L825.75,609.24 L825.78,610.98 L827.98,611.89 L829.23,610.68 L831.42,612.87 L830.21,614.12 Z M828.20,617.90 A4,4 0 1,0 820.20,617.90 A4,4 0 1,0 828.20,617.90 Z" fill="#0a5bae" fill-rule="evenodd"/>
<path d="M824.91,603.86 L826.02,603.84 L826.02,605.56 L824.91,605.54 L824.42,606.72 L825.22,607.50 L824.00,608.72 L823.22,607.92 L822.04,608.41 L822.06,609.52 L820.34,609.52 L820.36,608.41 L819.18,607.92 L818.40,608.72 L817.18,607.50 L817.98,606.72 L817.49,605.54 L816.38,605.56 L816.38,603.84 L817.49,603.86 L817.98,602.68 L817.18,601.90 L818.40,600.68 L819.18,601.48 L820.36,600.99 L820.34,599.88 L822.06,599.88 L822.04,600.99 L823.22,601.48 L824.00,600.68 L825.22,601.90 L824.42,602.68 Z M823.20,604.70 A2,2 0 1,0 819.20,604.70 A2,2 0 1,0 823.20,604.70 Z" fill="#0a5bae" fill-rule="evenodd"/>
<rect x="15.4" y="491.4" width="44.8" height="24.3" fill="#0a5bae"/>
<rect x="20.2" y="488.8" width="3.9" height="3" fill="#0a5bae"/><rect x="51" y="488.8" width="3.8" height="3" fill="#0a5bae"/>
<path d="M20.8,503.4 H31.8 M26.3,498 V508.8 M44.1,503.4 H55.5" stroke="#fff" stroke-width="2.8"/>
<rect x="262.3" y="361.3" width="11.6" height="24.6" rx="1.5" fill="none" stroke="#0a5bae" stroke-width="1.7"/>
<rect x="264.5" y="365.1" width="2.3" height="17.6" fill="#0a5bae"/>
<path d="M273.5,362.8 H278.5 Q280,362.8 280,364.3 V382.9 Q280,384.4 278.5,384.4 H273.5 Z" fill="#0a5bae"/>
<path d="M279.5,373.6 C287,373.6 291.5,378 291.5,384 C291.5,390 287,394.1 281,394.1 L268.5,394.1" fill="none" stroke="#0a5bae" stroke-width="3"/>
<rect x="688.2" y="489.8" width="55.8" height="26.2" rx="13.1" fill="none" stroke="#3167a8" stroke-width="1.6"/>
<text x="706.35" y="510.3" font-size="18.8" letter-spacing="0" fill="#0a5bae" stroke="#0a5bae" stroke-width="0.6" font-weight="bold" text-anchor="middle" textLength="26.7" lengthAdjust="spacingAndGlyphs">ON</text>
<circle cx="732.2" cy="503.3" r="7" fill="#0a5bae"/>
<path d="M64.8,615.5 V627 M65,621.3 H67.5" stroke="#0a5bae" stroke-width="1.1"/>
<path d="M67.8,616.5 Q67.8,614.5 70,614.5 L83,614.5 L84.5,616 L86,616 L87,617.8 L89.3,615.5 L89.3,629 L88,626.5 L86,628.6 L73,628.6 L71.5,627.2 L67.8,627.2 Z" fill="none" stroke="#0a5bae" stroke-width="1.1" stroke-linejoin="round"/>
<path d="M73.5,612.5 H81.5 M77.5,612.5 V614.5" stroke="#0a5bae" stroke-width="1"/>
<path d="M92.3,600 L101.5,600 L96.9,609.6 L103.6,609.6 L94.9,626 L97.1,613 L89.4,613 Z" fill="#0a5bae"/>
<path d="M149.7,615.8 H162.5 L179.7,598.8 M186.9,615.8 H199.3" fill="none" stroke="#0a5bae" stroke-width="1.6"/>
<circle cx="162.3" cy="615.8" r="4.4" fill="#0a5bae"/><circle cx="186.7" cy="615.8" r="4.4" fill="#0a5bae"/>
<path d="M239.1,613.2 H247.3 L252.1,597.1 L256.2,625.2 L262.5,603.7 L265,613.2 H270" fill="none" stroke="#0a5bae" stroke-width="1.5" stroke-linejoin="miter"/>
<circle cx="271.3" cy="613.2" r="2.5" fill="#0a5bae"/>
<path d="M274.8,609.9 A2.4,3.5 0 0 1 274.8,616.5 M277.7,607.2 A3.2,6 0 0 1 277.7,619.2 M280.5,604.8 A3.7,8.4 0 0 1 280.5,621.6" fill="none" stroke="#0a5bae" stroke-width="1.8"/>
<ellipse cx="352.3" cy="610.8" rx="5.3" ry="2.7" fill="#0a5bae"/>
<path d="M349.3,612.3 L355.3,612.3 L354.5,616.8 L350.1,616.8 Z" fill="#0a5bae"/>
<rect x="351.4" y="616" width="2.2" height="23.5" fill="#0a5bae"/>
<path d="M357.3,611 Q365.5,612 364.8,621 Q364,629 353.6,632.6" fill="none" stroke="#0a5bae" stroke-width="1.1"/>
<rect x="434.1" y="599" width="6" height="9.100000000000023" rx="2.6" fill="#0a5bae"/>
<path d="M434.95000000000005,617.57 V602 A2.15,2.15 0 0 1 439.25,602 V617.57 A4.05,4.05 0 1 1 434.95000000000005,617.57 Z" fill="none" stroke="#0a5bae" stroke-width="1.9"/>
<rect x="447.7" y="599" width="6" height="5.2000000000000455" rx="2.6" fill="#0a5bae"/>
<path d="M448.55,617.57 V602 A2.15,2.15 0 0 1 452.84999999999997,602 V617.57 A4.05,4.05 0 1 1 448.55,617.57 Z" fill="none" stroke="#0a5bae" stroke-width="1.9"/>
<rect x="521.4" y="603.3" width="25.1" height="40.9" rx="2.5" fill="#0a5bae"/>
<circle cx="533.9" cy="617.9" r="2.1" fill="#fff"/>
<path d="M530.2,615.1 A3.5,3.5 0 0 0 530.2,620.6999999999999 M537.6,615.1 A3.5,3.5 0 0 1 537.6,620.6999999999999 M527.6,613.1 A6.2,6.2 0 0 0 527.6,622.6999999999999 M540.2,613.1 A6.2,6.2 0 0 1 540.2,622.6999999999999 M525.3,611.3 A8.8,8.8 0 0 0 525.3,624.5 M542.5,611.3 A8.8,8.8 0 0 1 542.5,624.5" fill="none" stroke="#fff" stroke-width="1.1"/>
<rect x="0" y="-5" width="28.8" height="10" rx="2.8" fill="#0a5bae" transform="translate(619.9 631.4) rotate(-49.5)"/>
<circle cx="619.9" cy="631.4" r="10.1" fill="#0a5bae" stroke="#fff" stroke-width="1.2"/>
<circle cx="619.9" cy="631.4" r="6.8" fill="none" stroke="#fff" stroke-width="1.1"/>
</svg>
</body></html>
